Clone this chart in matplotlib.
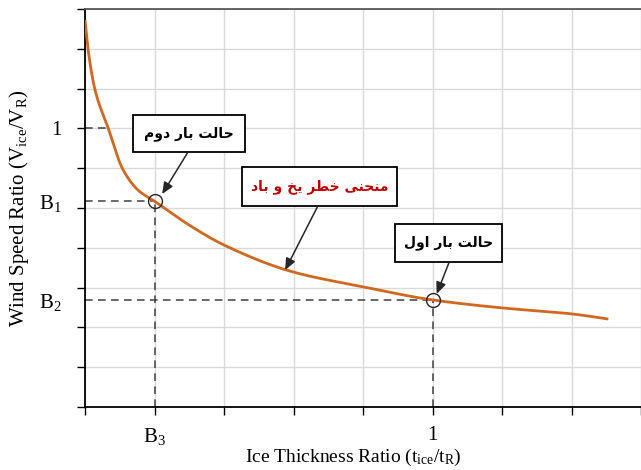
import matplotlib
matplotlib.use("Agg")
import matplotlib.pyplot as plt
import numpy as np
from matplotlib.patches import Rectangle

# ---------------- data ----------------
curve_x = [0.0, 0.043, 0.144, 0.335, 0.542, 0.763, 1.0, 1.5, 2.0, 3.0, 4.0, 5.0, 6.0, 7.0, 7.53]
curve_y = [9.72, 9.0, 7.97, 7.0, 5.98, 5.45, 5.17, 4.57, 4.07, 3.39, 3.02, 2.69, 2.49, 2.34, 2.21]

point_B1 = (1.0, 5.17)   # second load case
point_B2 = (5.0, 2.69)   # first load case
one_y = 7.0              # y position of "1"
one_x_on_curve = 0.335

ytick_pos = [7.0, 5.17, 2.69]
ytick_labels = ["1", r"$\mathrm{B_{1}}$", r"$\mathrm{B_{2}}$"]
xtick_pos = [1.0, 5.0]
xtick_labels = [r"$\mathrm{B_{3}}$", "1"]

label_second = "حالت بار دوم"
label_curve = "منحنی خطر یخ و باد"
label_first = "حالت بار اول"

# ---------------- simple Arabic/Persian shaping ----------------
FORMS = {
    'ا': ('\uFE8D', '\uFE8E', None, None),
    'ب': ('\uFE8F', '\uFE90', '\uFE91', '\uFE92'),
    'ت': ('\uFE95', '\uFE96', '\uFE97', '\uFE98'),
    'ح': ('\uFEA1', '\uFEA2', '\uFEA3', '\uFEA4'),
    'خ': ('\uFEA5', '\uFEA6', '\uFEA7', '\uFEA8'),
    'د': ('\uFEA9', '\uFEAA', None, None),
    'ر': ('\uFEAD', '\uFEAE', None, None),
    'ط': ('\uFEC1', '\uFEC2', '\uFEC3', '\uFEC4'),
    'ل': ('\uFEDD', '\uFEDE', '\uFEDF', '\uFEE0'),
    'م': ('\uFEE1', '\uFEE2', '\uFEE3', '\uFEE4'),
    'ن': ('\uFEE5', '\uFEE6', '\uFEE7', '\uFEE8'),
    'و': ('\uFEED', '\uFEEE', None, None),
    'ی': ('\uFEEF', '\uFEF0', '\uFEF3', '\uFEF4'),
}


def shape(text):
    out = []
    n = len(text)
    for i, ch in enumerate(text):
        if ch not in FORMS:
            out.append(ch)
            continue
        iso, fin, ini, med = FORMS[ch]
        prev = text[i - 1] if i > 0 else None
        nxt = text[i + 1] if i < n - 1 else None
        prev_j = prev in FORMS and FORMS[prev][2] is not None
        next_j = nxt in FORMS
        if ini is not None:
            if prev_j and next_j:
                out.append(med)
            elif prev_j:
                out.append(fin)
            elif next_j:
                out.append(ini)
            else:
                out.append(iso)
        else:
            out.append(fin if prev_j else iso)
    return ''.join(reversed(out))


def smooth_line(xs, ys, steps=30):
    """Monotone cubic (Fritsch-Carlson) rendering through the points (drawing style only)."""
    x = np.asarray(xs, float)
    y = np.asarray(ys, float)
    h = np.diff(x)
    d = np.diff(y) / h
    m = np.zeros_like(y)
    m[0], m[-1] = d[0], d[-1]
    for k in range(1, len(x) - 1):
        if d[k - 1] * d[k] <= 0:
            m[k] = 0
        else:
            w1 = 2 * h[k] + h[k - 1]
            w2 = h[k] + 2 * h[k - 1]
            m[k] = (w1 + w2) / (w1 / d[k - 1] + w2 / d[k])
    X, Y = [], []
    for k in range(len(x) - 1):
        t = np.linspace(0, 1, steps, endpoint=False)
        h00 = 2 * t ** 3 - 3 * t ** 2 + 1
        h10 = t ** 3 - 2 * t ** 2 + t
        h01 = -2 * t ** 3 + 3 * t ** 2
        h11 = t ** 3 - t ** 2
        X.append(x[k] + t * h[k])
        Y.append(h00 * y[k] + h10 * h[k] * m[k] + h01 * y[k + 1] + h11 * h[k] * m[k + 1])
    X.append([x[-1]])
    Y.append([y[-1]])
    return np.concatenate(X), np.concatenate(Y)


# ---------------- figure ----------------
plt.rcParams['mathtext.fontset'] = 'custom'
plt.rcParams['mathtext.rm'] = 'Liberation Serif'
plt.rcParams['mathtext.it'] = 'Liberation Serif:italic'
plt.rcParams['font.family'] = 'Liberation Serif'

fig = plt.figure(figsize=(6.41, 4.70), dpi=100)
ax = fig.add_axes([85 / 641, 63 / 470, 1 - 85 / 641, 398 / 470])
ax.set_xlim(0, 8)
ax.set_ylim(0, 10)
ax.xaxis.remove_overlapping_locs = False
ax.yaxis.remove_overlapping_locs = False

ax.set_xticks(range(0, 9))
ax.set_yticks(range(0, 11))
ax.set_xticklabels([])
ax.set_yticklabels([])
ax.grid(True, which='major', color='#d9d9d9', linewidth=1.0)
ax.set_axisbelow(True)
ax.tick_params(axis='both', which='major', direction='out', length=6, width=1, color='black')

ax.set_yticks(ytick_pos, minor=True)
ax.set_yticklabels(ytick_labels, minor=True, fontsize=15)
ax.set_xticks(xtick_pos, minor=True)
ax.set_xticklabels(xtick_labels, minor=True, fontsize=15)
ax.tick_params(axis='y', which='minor', length=0, pad=17)
ax.tick_params(axis='x', which='minor', length=0, pad=14)

for s in ['left', 'bottom']:
    ax.spines[s].set_color('black')
    ax.spines[s].set_linewidth(1.3)
ax.spines['top'].set_color('#595959')
ax.spines['top'].set_linewidth(1.3)
ax.spines['right'].set_visible(False)

ax.set_ylabel(r"Wind Speed Ratio ($\mathrm{V_{ice}/V_{R}}$)", fontsize=15)
ax.yaxis.set_label_coords(-0.097, 0.5)
ax.set_xlabel(r"Ice Thickness Ratio ($\mathrm{t_{ice}/t_{R}}$)", fontsize=14)
ax.xaxis.set_label_coords(0.483, -0.099)

# dashed guide lines
dash = dict(color='#404040', linestyle=(0, (5, 3.5)), linewidth=1.1, zorder=2)
ax.plot([0, point_B1[0]], [point_B1[1], point_B1[1]], **dash)
ax.plot([point_B1[0], point_B1[0]], [0, point_B1[1]], **dash)
ax.plot([0, point_B2[0]], [point_B2[1], point_B2[1]], **dash)
ax.plot([point_B2[0], point_B2[0]], [0, point_B2[1]], **dash)
ax.plot([0, one_x_on_curve], [one_y, one_y], **dash)

# curve
sx, sy = smooth_line(curve_x, curve_y)
ax.plot(sx, sy, color='#D0691F', linewidth=2.0, zorder=3, solid_capstyle='butt')

# circles
ax.plot([point_B1[0], point_B2[0]], [point_B1[1], point_B2[1]], 'o', markersize=10,
        markerfacecolor='none', markeredgecolor='#262626', markeredgewidth=1.0, zorder=4)

# annotation boxes (x0, y0, x1, y1 in data coords)
boxes = [
    ((0.69, 6.41, 2.30, 7.34), label_second, 'black'),
    ((2.26, 5.05, 4.49, 6.03), label_curve, '#C00000'),
    ((4.46, 3.64, 6.00, 4.60), label_first, 'black'),
]
for (x0, y0, x1, y1), txt, col in boxes:
    ax.add_patch(Rectangle((x0, y0), x1 - x0, y1 - y0, facecolor='white',
                           edgecolor='black', linewidth=1.3, zorder=5))
    ax.text((x0 + x1) / 2, (y0 + y1) / 2, shape(txt), ha='center', va='center',
            fontsize=10, fontweight='bold', color=col, family=['DejaVu Sans'], zorder=6)

arrows = [
    ((1.48, 6.40), (1.11, 5.35)),
    ((3.35, 5.05), (2.88, 3.44)),
    ((5.24, 3.64), (5.06, 2.84)),
]
for start, end in arrows:
    ax.annotate('', xy=end, xytext=start,
                arrowprops=dict(arrowstyle='-|>,head_length=0.7,head_width=0.3',
                                color='#262626', linewidth=1.1, shrinkA=0, shrinkB=0),
                zorder=6)

fig.savefig('out.png', dpi=100)
